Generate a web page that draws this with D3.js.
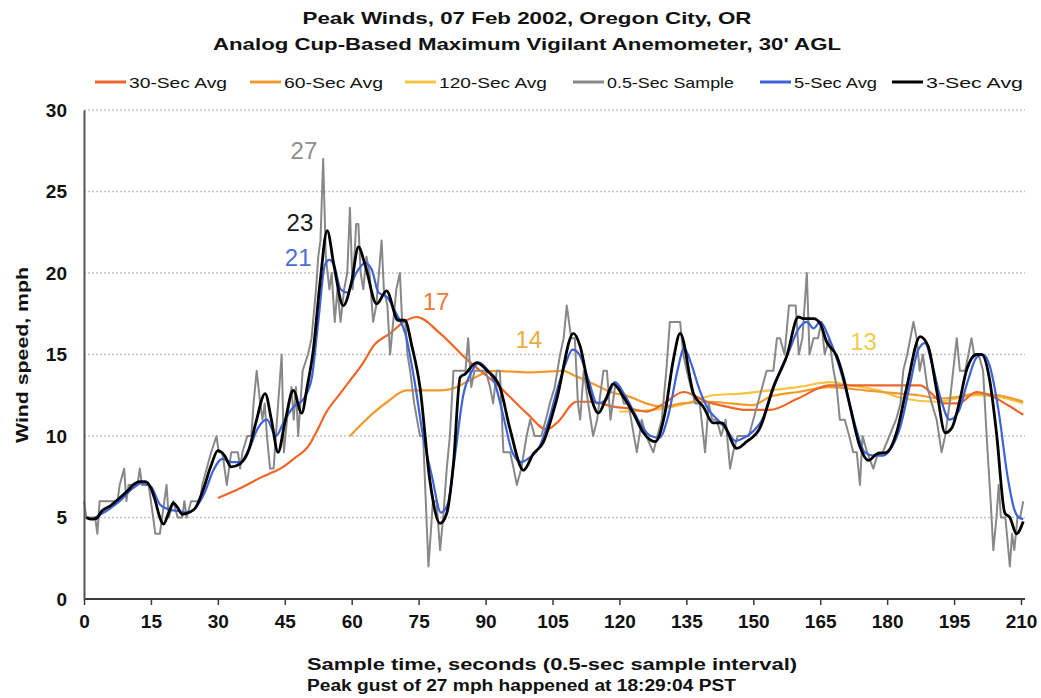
<!DOCTYPE html>
<html><head><meta charset="utf-8">
<script src="https://cdn.jsdelivr.net/npm/d3@7"></script>
<style>
html,body{margin:0;padding:0;background:#fff;}
svg{display:block;font-family:"Liberation Sans",Arial,sans-serif;}
</style></head>
<body><svg id="chart" width="1041" height="698"></svg>
<script>
// ---- data ----
const titleLines = ["Peak Winds, 07 Feb 2002, Oregon City, OR", "Analog Cup-Based Maximum Vigilant Anemometer, 30' AGL"];
const xLabelLines = ["Sample time, seconds (0.5-sec sample interval)", "Peak gust of 27 mph happened at 18:29:04 PST"];
const yLabel = "Wind speed, mph";
const xTicks = [0,15,30,45,60,75,90,105,120,135,150,165,180,195,210];
const yTicks = [0,5,10,15,20,25,30];
const seriesNames = ["30-Sec Avg","60-Sec Avg","120-Sec Avg","0.5-Sec Sample","5-Sec Avg","3-Sec Avg"];

const sampleT = [0,0.5,2.5,3,3.5,7.5,8,9,9.5,10,12,12.5,13,14.5,15.5,16,17,17.5,18.5,19,20,21,22,22.5,23,24,26,26.5,27.5,28.5,29.7,30.2,31,32,33,34.5,35,35.5,36.6,37.5,38,38.7,39.5,40,40.5,41,41.7,42.5,43,44.3,44.8,45.5,46.5,47,47.5,48,48.5,49,50.2,51,52,52.5,53,53.6,54.2,55,55.5,56.2,56.8,57.5,58.3,59,59.6,60.2,61,61.5,62,62.6,63.3,64,64.8,65.5,66.7,67.2,68,68.6,69.3,70,70.8,71.3,72,72.5,73.1,74,75.3,76,77.2,78.2,79,79.8,80.5,81.3,82,82.8,84,85.5,86.1,86.8,87.5,90,91,91.7,92.5,93.2,94,95.5,96.3,97,98,99.2,100,101,102.5,103.5,104.4,105.5,106.7,107.5,108.2,109.2,110,110.7,111.2,112,113,114.1,115,116.4,117.2,118,119,120,121,122,123.9,125,126,127.6,128.5,129.5,130.5,131.3,132.3,133.6,134.3,135.1,136,137,138,139.2,140,140.8,141.8,142.8,143.8,144.8,145.5,146.5,148,149,150,151,152,153,154.5,155.3,156,157,158,159.5,160.2,161,162,162.6,163.5,164.5,165.3,166,167,168,168.7,169.4,170.5,171.5,172.4,173.2,173.9,174.5,175.5,176.9,178,179,180.5,182,183,183.6,184.5,185.9,186.6,187.3,188,189,190,191.1,192.2,193,194,195.6,196.3,197.5,198.9,199.5,200.5,201.5,202.3,203.2,203.8,204.5,205,205.5,206.5,207.5,208,208.5,209.2,209.8,210.5];
const sampleV = [6,5,5,4,6,6,7,8,6,7,7,8,7,7,5,4,4,5,7,5,6,5,5,6,5,6,6,7,8,9,10,9,9,7,9,9,8,9,10,10,12,14,12,11,12,10,8,8,10,15,9,11,13,11,13,10,12,14,15,16,19,21,22,27,21,19,20,17,19,17,19,20,24,19,23,23,20,19,21,20,17,18,22,19,18,15,17,19,20,17,17,15,14,12,10,10,2,6,6,3,5,8,10,14,14,14,16,13,14,14,13,12,14,14,9,9,8,7,8,10,11,10,10,11,12,13,15,16,18,16,16,12,11,14,12,10,11,14,14,11,13,13,12,12,9,11,10,9,10,11,14,17,17,17,15,14,13,12,12,9,12,11,11,10,11,8,9,10,10,10,11,12,13,14,14,16,16,15,18,18,15,16,20,15,16,16,17,15,16,14,13,11,11,10,9,9,7,10,9,8,9,9,10,11,12,14,15,17,16,14,15,13,12,11,9,10,12,16,14,14,16,15,15,14,10,6,3,5,7,5,5,2,4,3,5,5,6];

const avg3T = [0.5,1.5,2.8,4,5.8,8,10,11,12.5,13.7,15,16,17,17.8,19,20,21,22,23.5,25,26.7,28.5,30,31.5,33,35,37,38.5,40.6,42,43.5,45,46.9,48.8,50,51.4,52.9,54.5,56,58.1,60,61.5,63,65.6,67.8,70.4,71.9,73.5,75.3,77.5,79.8,81.3,82.8,84.3,85.4,88,90.2,93.2,95.5,98.5,100.7,102.9,105.9,109.7,111.2,113.4,115.3,117,118.6,120.9,123.1,125.4,128,130.2,132.1,133.6,136.6,138.8,141,142.9,146.3,148.5,151.5,154.5,157.5,160.1,161.2,163.5,165,166.4,168.7,170.2,171.7,173.9,175.8,177.7,179.9,182.1,184.4,187.4,189.2,191.1,193,194.5,196.3,197.8,200.1,201.2,203,204.5,206.4,207.5,209,210.5];
const avg3V = [5.0,4.9,4.95,5.4,5.7,6.2,6.7,7.0,7.2,7.2,6.8,6.0,5.0,4.6,5.3,5.9,5.6,5.2,5.3,5.6,6.7,8.2,9.1,8.8,8.1,8.3,9.2,10.8,12.6,11.0,9.0,10.8,12.8,11.4,13.0,15.3,19.4,22.6,20.5,18.0,19.5,21.6,20.5,18.1,18.9,17.1,17.1,15.5,13.0,7.3,4.64,5.26,8.3,13.6,13.8,14.5,14.05,13.0,10.4,7.9,8.9,9.6,12.2,16.3,15.5,12.6,11.4,12.3,13.2,12.4,11.4,10.2,9.65,11.4,14.7,16.3,12.6,11.8,10.8,10.8,9.25,9.65,10.5,13.0,14.9,17.3,17.2,17.2,16.9,15.8,14.9,13.6,11.8,9.35,8.5,8.9,9.0,10.2,13.0,16.1,15.5,12.8,10.2,10.5,12.2,14.05,15.0,15.0,13.4,10.2,5.26,5.0,4.0,4.75];

const avg5T = [2.5,5,8,11,13,15,17,19,21,23,25,27,29,31,33,35,37,39,41,43,45,47,49,51,52.5,54,55,56,57.5,59,61,63,64.5,66,68,70,72,74,76,78,80,81.5,83,85,87,88.5,90,92,94,96,98,100,102,104,106,108,109.5,111,113,115,117,119,121,123,125,127,129,131,133,134.5,136,138,140,142,144,146,148,150,152,154,156,158,160,162,163.5,165,167,169,171,173,175,177,179,181,183,185,187,188.5,190,192,194,196,198,200,201.5,203,205,207,208.5,209.5,210.5];
const avg5V = [5.0,5.4,6.0,6.8,7.1,6.9,5.8,5.5,5.4,5.3,5.6,6.5,7.9,8.6,8.4,8.4,9.2,10.5,11.0,10.0,11.0,11.8,12.2,13.5,17.0,20.5,20.8,20.5,19.0,18.8,20.0,20.6,20.2,18.8,18.5,17.5,16.3,13.5,10.0,7.5,5.3,5.8,8.5,12.5,14.0,14.5,14.2,13.3,11.2,9.0,8.4,8.7,9.3,10.8,12.8,14.5,15.3,15.0,13.5,12.0,12.2,13.3,12.6,11.6,10.6,10.0,9.9,11.3,14.0,15.4,14.5,12.8,11.6,11.0,10.4,9.7,9.9,10.3,11.0,12.5,14.0,15.2,16.5,17.0,16.6,17.0,16.0,14.5,12.6,10.5,9.0,8.8,8.8,9.3,10.6,13.0,15.3,15.7,14.5,12.3,11.0,11.5,13.3,14.8,15.0,14.3,11.5,7.5,5.5,5.0,4.9];

const avg30T = [30,35,40,42.5,44,47,50.6,52,54.4,57.4,59.6,62.6,64.8,68.6,72.3,74.6,79.8,85.8,93.2,99.2,103.7,106,110.4,114,118.6,122,126.1,130,134.3,139.6,144,148.5,153.7,160,167,175,183,187.4,190,192.6,196,200,203,207,210.5];
const avg30V = [6.2,6.8,7.5,7.8,8.0,8.6,9.5,10.2,11.5,12.6,13.4,14.5,15.5,16.3,17.1,17.3,16.3,14.7,13.0,11.4,10.4,10.8,12.1,12.1,11.8,11.7,11.5,12.0,12.7,12.1,11.8,11.6,11.6,12.3,13.1,13.1,13.1,13.1,12.6,12.0,12.0,12.7,12.5,11.9,11.3];

const avg60T = [59.6,64.8,68,72.3,79.8,83.5,87,91.7,100,107.3,110,114.9,118,122.4,126,129.8,134,140,145,150,153.7,160,167,175,183,187,192,196,200,205,210.5];
const avg60V = [10.0,11.4,12.1,12.8,12.8,13.0,13.5,14.0,13.9,14.0,13.7,13.1,12.7,12.4,12.0,11.8,12.0,12.1,12.0,11.9,12.4,12.7,13.0,12.8,12.6,12.5,12.3,12.4,12.6,12.5,12.1];

const avg120T = [120,125,130,135,141,147,153.7,160,167.2,172,178,183.6,191.1,200,205,210.5];
const avg120V = [11.5,11.55,11.7,12.0,12.5,12.6,12.8,13.0,13.3,13.1,12.8,12.3,12.1,12.5,12.4,12.0];

// peak annotations: text, time, speed
const peakText = ["27","23","21","17","14","13"];
const peakT = [49.3,48.4,48.0,78.9,99.7,174.7];
const peakV = [27.0,22.6,20.4,17.7,15.4,15.3];

// ---- styles ----
const colors = {"30-Sec Avg":"#EE6628","60-Sec Avg":"#F39A2C","120-Sec Avg":"#F6C441","0.5-Sec Sample":"#888888","5-Sec Avg":"#3D63D6","3-Sec Avg":"#000000"};
const widths = {"30-Sec Avg":2.2,"60-Sec Avg":2.2,"120-Sec Avg":2.2,"0.5-Sec Sample":2,"5-Sec Avg":2.2,"3-Sec Avg":2.8};
const labelColors = ["#8E8E8E","#1a1a1a","#4A6ED6","#EE7A38","#E9AC44","#F1CB4E"];

const svg = d3.select("#chart");
const x = d3.scaleLinear().domain([0,210]).range([84,1021]);
const y = d3.scaleLinear().domain([0,30]).range([599,110]);

// gridlines
svg.append("g").selectAll("line").data(yTicks.filter(d=>d>0)).join("line")
  .attr("x1",x(0)).attr("x2",1025).attr("y1",d=>y(d)).attr("y2",d=>y(d))
  .attr("stroke","#c4c4c4").attr("stroke-width",1.5).attr("stroke-dasharray","2,2");

// series
const line = d3.line().x(d=>x(d[0])).y(d=>y(d[1]));
const zip = (a,b)=>a.map((t,i)=>[t,b[i]]);
const seriesData = [
  {name:"120-Sec Avg", pts:zip(avg120T,avg120V), curve:d3.curveMonotoneX},
  {name:"60-Sec Avg", pts:zip(avg60T,avg60V), curve:d3.curveMonotoneX},
  {name:"30-Sec Avg", pts:zip(avg30T,avg30V), curve:d3.curveMonotoneX},
  {name:"0.5-Sec Sample", pts:zip(sampleT,sampleV), curve:d3.curveLinear},
  {name:"5-Sec Avg", pts:zip(avg5T,avg5V), curve:d3.curveMonotoneX},
  {name:"3-Sec Avg", pts:zip(avg3T,avg3V), curve:d3.curveMonotoneX}
];
svg.append("g").selectAll("path").data(seriesData).join("path")
  .attr("fill","none")
  .attr("stroke",d=>colors[d.name])
  .attr("stroke-width",d=>widths[d.name])
  .attr("stroke-linejoin","round")
  .attr("d",d=>line.curve(d.curve)(d.pts));

// axes
const xAxis = svg.append("g").attr("transform",`translate(0,${y(0)})`)
  .call(d3.axisBottom(x).tickValues(xTicks).tickSize(6).tickSizeOuter(0).tickPadding(10));
xAxis.select(".domain").attr("stroke","#3a3a3a").attr("stroke-width",2)
  .attr("d",`M${x(0)},0H1025`);
xAxis.selectAll(".tick line").attr("stroke","#3a3a3a").attr("stroke-width",1.5);
xAxis.selectAll("text").attr("font-size",19).attr("font-weight","bold").attr("fill","#111")
  .attr("font-family","'Liberation Sans',Arial,sans-serif");

const yAxis = svg.append("g").attr("transform",`translate(${x(0)},0)`)
  .call(d3.axisLeft(y).tickValues(yTicks).tickSize(0).tickSizeOuter(0).tickPadding(17));
yAxis.select(".domain").attr("stroke","#555").attr("stroke-width",2);
yAxis.selectAll("text").attr("font-size",19).attr("font-weight","bold").attr("fill","#111")
  .attr("font-family","'Liberation Sans',Arial,sans-serif");

// titles
const titleWidths = [449,628];
svg.append("g").selectAll("text").data(titleLines).join("text")
  .attr("x",527).attr("y",(d,i)=>24+i*26)
  .attr("text-anchor","middle").attr("font-size",17).attr("font-weight","bold").attr("fill","#111")
  .attr("textLength",(d,i)=>titleWidths[i]).attr("lengthAdjust","spacingAndGlyphs")
  .text(d=>d);

// legend
const legX = [95,250,405,573,760,892];
const legTextW = [98,99,108,127,83,97];
const leg = svg.append("g").selectAll("g").data(seriesNames).join("g")
  .attr("transform",(d,i)=>`translate(${legX[i]},82)`);
leg.append("line").attr("x1",0).attr("x2",31).attr("y1",0).attr("y2",0)
  .attr("stroke",d=>colors[d]).attr("stroke-width",3);
leg.append("text").attr("x",34).attr("y",5.5).attr("font-size",15).attr("fill","#111")
  .attr("textLength",(d,i)=>legTextW[i]).attr("lengthAdjust","spacingAndGlyphs")
  .text(d=>d);

// y label
svg.append("text").attr("transform","translate(28,355) rotate(-90)")
  .attr("text-anchor","middle").attr("font-size",17).attr("font-weight","bold").attr("fill","#111")
  .attr("textLength",176).attr("lengthAdjust","spacingAndGlyphs")
  .text(yLabel);

// x label
const xLabW = [490,429];
svg.append("g").selectAll("text").data(xLabelLines).join("text")
  .attr("x",307).attr("y",(d,i)=>670+i*21)
  .attr("font-size",16).attr("font-weight","bold").attr("fill","#111")
  .attr("textLength",(d,i)=>xLabW[i]).attr("lengthAdjust","spacingAndGlyphs")
  .text(d=>d);

// peak annotations
svg.append("g").selectAll("text").data(peakText).join("text")
  .attr("x",(d,i)=>x(peakT[i])).attr("y",(d,i)=>y(peakV[i]))
  .attr("text-anchor","middle").attr("font-size",24).attr("fill",(d,i)=>labelColors[i])
  .text(d=>d);
</script></body></html>
